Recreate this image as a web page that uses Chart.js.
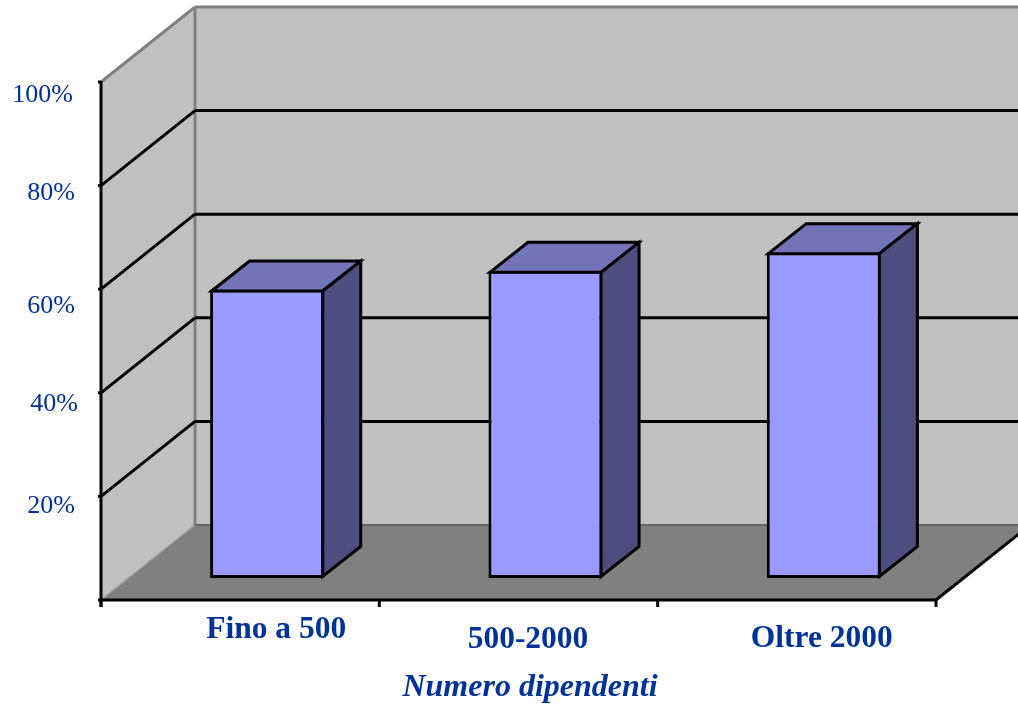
<!DOCTYPE html>
<html>
<head>
<meta charset="utf-8">
<title>Numero dipendenti</title>
<script src="https://cdn.jsdelivr.net/npm/chart.js@4"></script>
<style>
  html, body { margin: 0; padding: 0; background: #fff; overflow: hidden; }
  canvas { display: block; }
</style>
</head>
<body>
<canvas id="dipendenti" width="1018" height="704"></canvas>
<script>
var categories = ['Fino a 500', '500-2000', 'Oltre 2000'];
var percentuali = [55.7, 59.3, 62.9];
var yTicks = [20, 40, 60, 80, 100];
var axisTitle = 'Numero dipendenti';

// room depth and bar depth, in pixels
var ROOM_DX = 94, ROOM_DY = 75;
var BAR_DX = 38, BAR_DY = 30;
var BAR_SHIFT_X = 27, BAR_SHIFT_Y = 22;

var BLUE = '#003399';
var FONT = '"Liberation Serif", "Times New Roman", serif';

// hand nudges for the tick labels, the axes are not quite regular
var yLabelNudge = { 100: [73, 13], 80: [75, 8], 60: [75, 17], 40: [78, 11], 20: [75, 10] };
var xLabelNudge = [[36, 30], [9.5, 40], [25, 39]];

function line(ctx, x1, y1, x2, y2, color, width) {
  ctx.strokeStyle = color;
  ctx.lineWidth = width;
  ctx.beginPath();
  ctx.moveTo(x1, y1);
  ctx.lineTo(x2, y2);
  ctx.stroke();
}

function poly(ctx, pts, fill, stroke, width) {
  ctx.beginPath();
  ctx.moveTo(pts[0][0], pts[0][1]);
  for (var i = 1; i < pts.length; i++) ctx.lineTo(pts[i][0], pts[i][1]);
  ctx.closePath();
  ctx.fillStyle = fill;
  ctx.fill();
  if (stroke) {
    ctx.strokeStyle = stroke;
    ctx.lineWidth = width;
    ctx.lineJoin = 'miter';
    ctx.stroke();
  }
}

var room3d = {
  id: 'room3d',
  beforeDatasetsDraw: function(chart) {
    var ctx = chart.ctx, x = chart.scales.x, y = chart.scales.y;
    var base = y.getPixelForValue(0), top = y.getPixelForValue(100);
    var backL = x.left + ROOM_DX, backR = x.right + ROOM_DX;

    ctx.save();
    ctx.lineCap = 'butt';

    // back wall, left wall, floor
    poly(ctx, [[backL, top - ROOM_DY], [backR, top - ROOM_DY], [backR, base - ROOM_DY], [backL, base - ROOM_DY]], '#c0c0c0');
    poly(ctx, [[x.left, top], [backL, top - ROOM_DY], [backL, base - ROOM_DY], [x.left, base]], '#c0c0c0');
    poly(ctx, [[x.left, base], [backL, base - ROOM_DY], [backR, base - ROOM_DY], [x.right, base]], '#808080');

    // grey edges of the walls
    line(ctx, backL, top - ROOM_DY, backR, top - ROOM_DY, '#808080', 3);
    line(ctx, x.left, top, backL, top - ROOM_DY, '#808080', 3);
    line(ctx, backL, top - ROOM_DY, backL, base - ROOM_DY, '#808080', 3);
    line(ctx, backL, base - ROOM_DY, backR, base - ROOM_DY, '#666666', 2);
    line(ctx, x.left, base, backL, base - ROOM_DY, '#9a9a9a', 1.5);

    // grid lines on the two walls
    yTicks.forEach(function(v) {
      if (v === 100) return;
      var py = y.getPixelForValue(v);
      line(ctx, x.left, py, backL, py - ROOM_DY, '#000', 3);
      line(ctx, backL, py - ROOM_DY, backR, py - ROOM_DY, '#000', 3);
    });

    // front axes with their tick marks
    line(ctx, x.left, top - 1, x.left, base + 7, '#000', 3);
    line(ctx, x.left - 3, base, x.right + 1, base, '#000', 3);
    line(ctx, x.right, base, x.right + ROOM_DX, base - ROOM_DY, '#000', 3);
    yTicks.forEach(function(v) {
      var py = y.getPixelForValue(v);
      line(ctx, x.left - 3, py, x.left, py, '#000', 3);
    });
    for (var i = 0; i <= categories.length; i++) {
      var px = x.left + (x.right - x.left) * i / categories.length;
      line(ctx, px, base, px, base + 7, '#000', 3);
    }
    ctx.restore();

    // the bars themselves sit a little way back from the front edge
    ctx.save();
    ctx.translate(BAR_SHIFT_X, -BAR_SHIFT_Y);
  },
  afterDatasetsDraw: function(chart) {
    var ctx = chart.ctx, x = chart.scales.x, y = chart.scales.y;
    ctx.restore();

    ctx.save();
    chart.getDatasetMeta(0).data.forEach(function(bar) {
      // 1.5 in from the box so these strokes run down the middle of the bar border
      var xl = bar.x - bar.width / 2 + BAR_SHIFT_X + 1.5;
      var xr = bar.x + bar.width / 2 + BAR_SHIFT_X - 1.5;
      var yt = bar.y - BAR_SHIFT_Y + 1.5;
      var yb = bar.base - BAR_SHIFT_Y - 1.5;
      poly(ctx, [[xl, yt], [xl + BAR_DX, yt - BAR_DY], [xr + BAR_DX, yt - BAR_DY], [xr, yt]], '#7373b8', '#000', 3);
      poly(ctx, [[xr, yt], [xr + BAR_DX, yt - BAR_DY], [xr + BAR_DX, yb - BAR_DY], [xr, yb]], '#4d4d80', '#000', 3);
    });

    // axis labels
    ctx.fillStyle = BLUE;
    ctx.textBaseline = 'middle';
    ctx.textAlign = 'right';
    ctx.font = '26px ' + FONT;
    yTicks.forEach(function(v) {
      var n = yLabelNudge[v];
      ctx.fillText(v + '%', n[0], y.getPixelForValue(v) + n[1]);
    });

    ctx.textAlign = 'center';
    ctx.font = 'bold 31.5px ' + FONT;
    categories.forEach(function(c, i) {
      ctx.fillText(c, x.getPixelForValue(i) + xLabelNudge[i][0], y.getPixelForValue(0) + xLabelNudge[i][1]);
    });

    ctx.font = 'italic bold 32px ' + FONT;
    ctx.fillText(axisTitle, (x.left + x.right) / 2 + 11.5, y.getPixelForValue(0) + 88);
    ctx.restore();
  }
};

new Chart(document.getElementById('dipendenti'), {
  type: 'bar',
  data: {
    labels: categories,
    datasets: [{
      data: percentuali,
      backgroundColor: '#9999ff',
      borderColor: '#000',
      borderWidth: 3,
      borderSkipped: false,
      categoryPercentage: 1,
      barPercentage: 0.41,
      clip: false
    }]
  },
  options: {
    responsive: false,
    animation: false,
    layout: { padding: { left: 93, right: 82, top: 82, bottom: 96 } },
    plugins: { legend: { display: false }, tooltip: { enabled: false } },
    scales: {
      x: { grid: { display: false }, border: { display: false }, ticks: { display: false } },
      y: { min: 0, max: 100, grid: { display: false }, border: { display: false }, ticks: { display: false, stepSize: 20 } }
    }
  },
  plugins: [room3d]
});
</script>
</body>
</html>
